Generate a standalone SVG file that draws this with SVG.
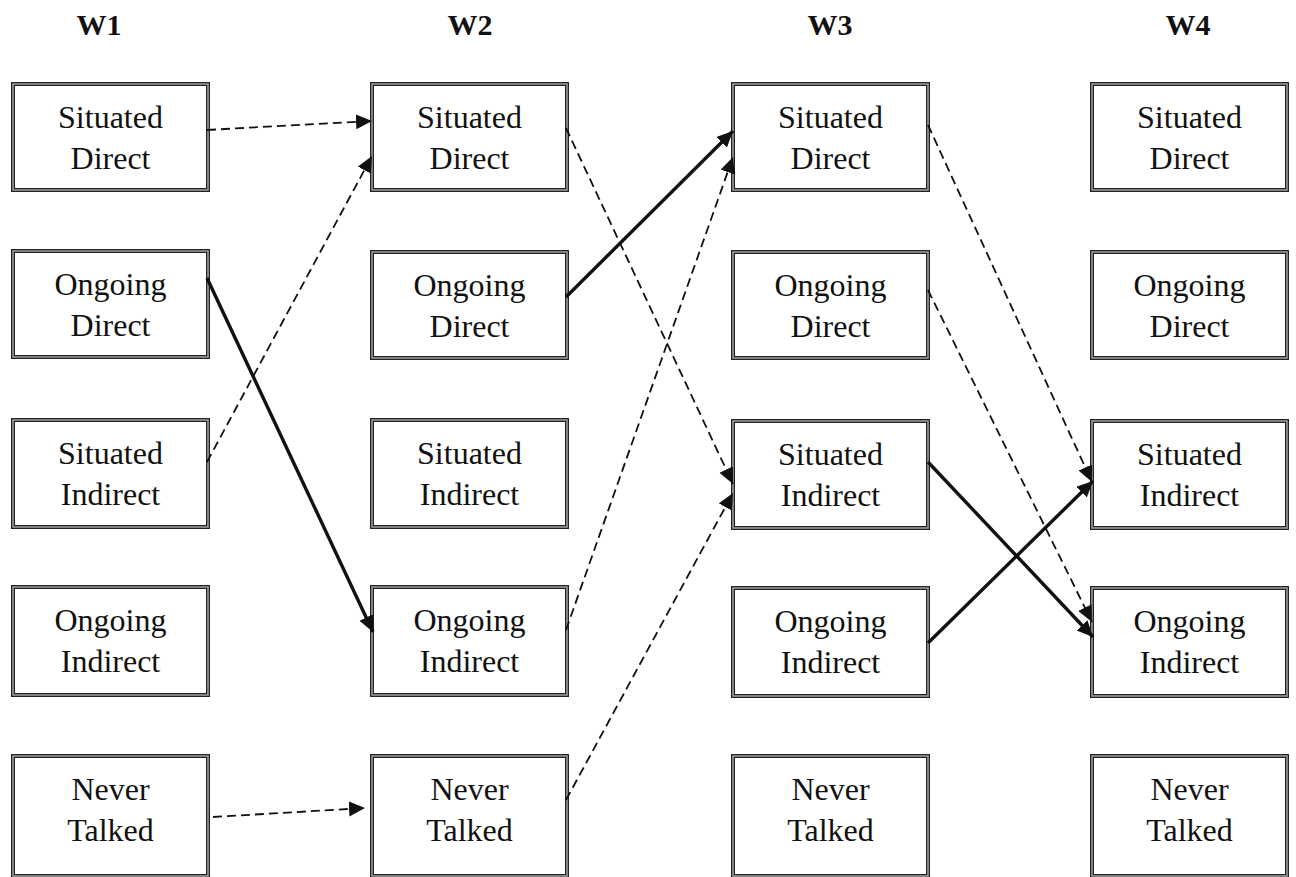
<svg xmlns="http://www.w3.org/2000/svg" width="1296" height="877" viewBox="0 0 1296 877">
<style>
.box{fill:#fff;stroke:#222;stroke-width:4}
.box2{fill:none;stroke:#9a9a9a;stroke-width:1.6}
.lbl{font-family:"Liberation Serif","Times New Roman",serif;font-size:32px;fill:#111;text-anchor:middle}
.hdr{font-family:"Liberation Serif","Times New Roman",serif;font-size:30px;font-weight:bold;fill:#111;text-anchor:middle}
.dash{fill:none;stroke:#111;stroke-width:1.8;stroke-dasharray:9 5}
.solid{fill:none;stroke:#111;stroke-width:3.4}
</style>
<defs>
<marker id="ah" markerUnits="userSpaceOnUse" markerWidth="17" markerHeight="16" refX="16" refY="7.5" orient="auto">
<path d="M0,0 L16,7.5 L0,15 z" fill="#111"/>
</marker>
</defs>
<rect width="1296" height="877" fill="#fff"/>
<g id="headers">
<text class="hdr" x="99" y="35">W1</text>
<text class="hdr" x="470" y="35">W2</text>
<text class="hdr" x="830" y="35">W3</text>
<text class="hdr" x="1188" y="35">W4</text>
</g>
<!-- W1 -->
<g id="w1-sd"><rect class="box" x="13" y="84" width="195" height="106"/><rect class="box2" x="13" y="84" width="195" height="106"/><text class="lbl" x="110.5" y="128">Situated</text><text class="lbl" x="110.5" y="169">Direct</text></g>
<g id="w1-od"><rect class="box" x="13" y="251" width="195" height="106"/><rect class="box2" x="13" y="251" width="195" height="106"/><text class="lbl" x="110.5" y="295">Ongoing</text><text class="lbl" x="110.5" y="336">Direct</text></g>
<g id="w1-si"><rect class="box" x="13" y="420" width="195" height="107"/><rect class="box2" x="13" y="420" width="195" height="107"/><text class="lbl" x="110.5" y="464">Situated</text><text class="lbl" x="110.5" y="505">Indirect</text></g>
<g id="w1-oi"><rect class="box" x="13" y="587" width="195" height="108"/><rect class="box2" x="13" y="587" width="195" height="108"/><text class="lbl" x="110.5" y="631">Ongoing</text><text class="lbl" x="110.5" y="672">Indirect</text></g>
<g id="w1-nt"><rect class="box" x="13" y="756" width="195" height="120"/><rect class="box2" x="13" y="756" width="195" height="120"/><text class="lbl" x="110.5" y="800">Never</text><text class="lbl" x="110.5" y="841">Talked</text></g>
<!-- W2 -->
<g id="w2-sd"><rect class="box" x="372" y="84" width="195" height="106"/><rect class="box2" x="372" y="84" width="195" height="106"/><text class="lbl" x="469.5" y="128">Situated</text><text class="lbl" x="469.5" y="169">Direct</text></g>
<g id="w2-od"><rect class="box" x="372" y="252" width="195" height="106"/><rect class="box2" x="372" y="252" width="195" height="106"/><text class="lbl" x="469.5" y="296">Ongoing</text><text class="lbl" x="469.5" y="337">Direct</text></g>
<g id="w2-si"><rect class="box" x="372" y="420" width="195" height="107"/><rect class="box2" x="372" y="420" width="195" height="107"/><text class="lbl" x="469.5" y="464">Situated</text><text class="lbl" x="469.5" y="505">Indirect</text></g>
<g id="w2-oi"><rect class="box" x="372" y="587" width="195" height="108"/><rect class="box2" x="372" y="587" width="195" height="108"/><text class="lbl" x="469.5" y="631">Ongoing</text><text class="lbl" x="469.5" y="672">Indirect</text></g>
<g id="w2-nt"><rect class="box" x="372" y="756" width="195" height="120"/><rect class="box2" x="372" y="756" width="195" height="120"/><text class="lbl" x="469.5" y="800">Never</text><text class="lbl" x="469.5" y="841">Talked</text></g>
<!-- W3 -->
<g id="w3-sd"><rect class="box" x="733" y="84" width="195" height="106"/><rect class="box2" x="733" y="84" width="195" height="106"/><text class="lbl" x="830.5" y="128">Situated</text><text class="lbl" x="830.5" y="169">Direct</text></g>
<g id="w3-od"><rect class="box" x="733" y="252" width="195" height="106"/><rect class="box2" x="733" y="252" width="195" height="106"/><text class="lbl" x="830.5" y="296">Ongoing</text><text class="lbl" x="830.5" y="337">Direct</text></g>
<g id="w3-si"><rect class="box" x="733" y="421" width="195" height="107"/><rect class="box2" x="733" y="421" width="195" height="107"/><text class="lbl" x="830.5" y="465">Situated</text><text class="lbl" x="830.5" y="506">Indirect</text></g>
<g id="w3-oi"><rect class="box" x="733" y="588" width="195" height="108"/><rect class="box2" x="733" y="588" width="195" height="108"/><text class="lbl" x="830.5" y="632">Ongoing</text><text class="lbl" x="830.5" y="673">Indirect</text></g>
<g id="w3-nt"><rect class="box" x="733" y="756" width="195" height="120"/><rect class="box2" x="733" y="756" width="195" height="120"/><text class="lbl" x="830.5" y="800">Never</text><text class="lbl" x="830.5" y="841">Talked</text></g>
<!-- W4 -->
<g id="w4-sd"><rect class="box" x="1092" y="84" width="195" height="106"/><rect class="box2" x="1092" y="84" width="195" height="106"/><text class="lbl" x="1189.5" y="128">Situated</text><text class="lbl" x="1189.5" y="169">Direct</text></g>
<g id="w4-od"><rect class="box" x="1092" y="252" width="195" height="106"/><rect class="box2" x="1092" y="252" width="195" height="106"/><text class="lbl" x="1189.5" y="296">Ongoing</text><text class="lbl" x="1189.5" y="337">Direct</text></g>
<g id="w4-si"><rect class="box" x="1092" y="421" width="195" height="107"/><rect class="box2" x="1092" y="421" width="195" height="107"/><text class="lbl" x="1189.5" y="465">Situated</text><text class="lbl" x="1189.5" y="506">Indirect</text></g>
<g id="w4-oi"><rect class="box" x="1092" y="588" width="195" height="108"/><rect class="box2" x="1092" y="588" width="195" height="108"/><text class="lbl" x="1189.5" y="632">Ongoing</text><text class="lbl" x="1189.5" y="673">Indirect</text></g>
<g id="w4-nt"><rect class="box" x="1092" y="756" width="195" height="120"/><rect class="box2" x="1092" y="756" width="195" height="120"/><text class="lbl" x="1189.5" y="800">Never</text><text class="lbl" x="1189.5" y="841">Talked</text></g>
<g id="connectors">
<line class="dash" x1="207" y1="130" x2="372" y2="121" marker-end="url(#ah)"/>
<line class="dash" x1="207" y1="462" x2="372" y2="156" marker-end="url(#ah)"/>
<line class="solid" x1="207" y1="278" x2="373" y2="632" marker-end="url(#ah)"/>
<line class="dash" x1="213" y1="817" x2="365" y2="808" marker-end="url(#ah)"/>
<line class="dash" x1="566" y1="128" x2="733" y2="484" marker-end="url(#ah)"/>
<line class="solid" x1="566" y1="297" x2="733" y2="131" marker-end="url(#ah)"/>
<line class="dash" x1="566" y1="630" x2="733" y2="157" marker-end="url(#ah)"/>
<line class="dash" x1="566" y1="800" x2="733" y2="493" marker-end="url(#ah)"/>
<line class="dash" x1="928" y1="125" x2="1092" y2="482" marker-end="url(#ah)"/>
<line class="dash" x1="928" y1="290" x2="1092" y2="622" marker-end="url(#ah)"/>
<line class="solid" x1="928" y1="462" x2="1093" y2="637" marker-end="url(#ah)"/>
<line class="solid" x1="928" y1="643" x2="1093" y2="481" marker-end="url(#ah)"/>
</g>
</svg>
